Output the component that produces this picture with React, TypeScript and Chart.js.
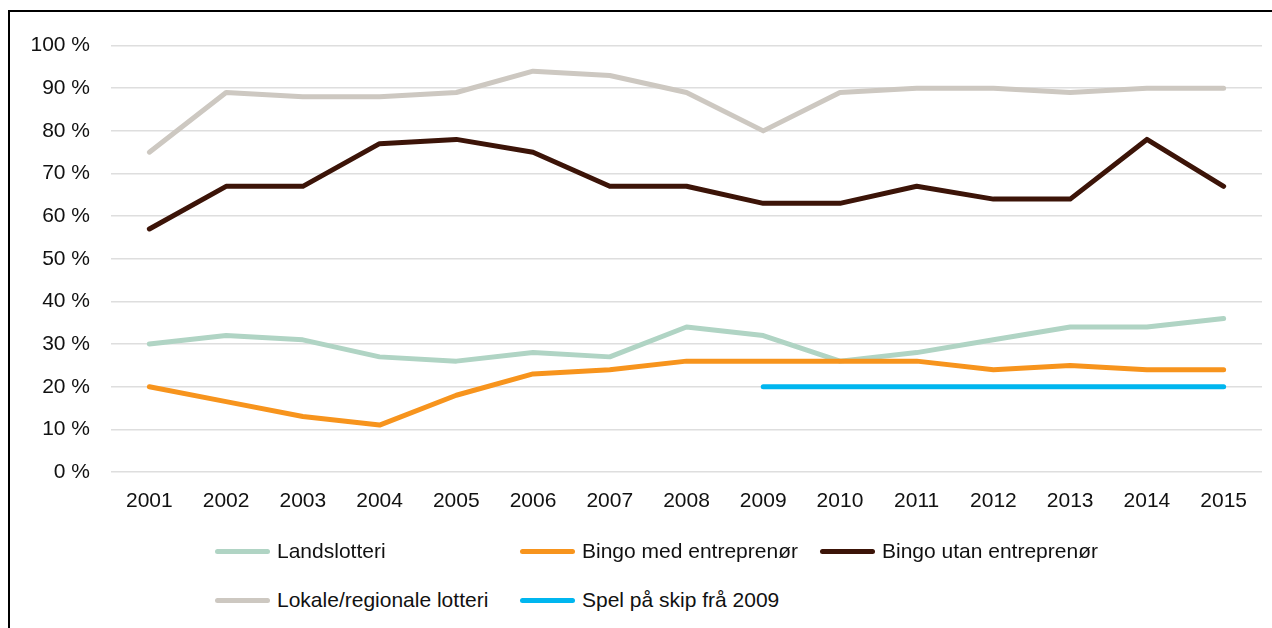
import React, { useEffect, useRef } from "react";
import { Chart, registerables } from "chart.js";

Chart.register(...registerables);

const years = ["2001", "2002", "2003", "2004", "2005", "2006", "2007", "2008", "2009", "2010", "2011", "2012", "2013", "2014", "2015"];

const landslotteri = [30, 32, 31, 27, 26, 28, 27, 34, 32, 26, 28, 31, 34, 34, 36];
const bingoMed = [20, 16.5, 13, 11, 18, 23, 24, 26, 26, 26, 26, 24, 25, 24, 24];
const bingoUtan = [57, 67, 67, 77, 78, 75, 67, 67, 63, 63, 67, 64, 64, 78, 67];
const lokale = [75, 89, 88, 88, 89, 94, 93, 89, 80, 89, 90, 90, 89, 90, 90];
const spelSkip = [null, null, null, null, null, null, null, null, 20, 20, 20, 20, 20, 20, 20];

const seriesLabels = ["Landslotteri", "Bingo med entreprenør", "Bingo utan entreprenør", "Lokale/regionale lotteri", "Spel på skip frå 2009"];
const seriesColors = ["#b0d4c4", "#f7941d", "#3c1408", "#cdc8c1", "#00b6ef"];
const seriesData = [landslotteri, bingoMed, bingoUtan, lokale, spelSkip];

const yTicks = [0, 10, 20, 30, 40, 50, 60, 70, 80, 90, 100];

const FONT = "'Liberation Sans', Arial, sans-serif";
const FONT_SIZE = 21;

const CANVAS_W = 1262;
const CANVAS_H = 530;

// legend grid: column lefts and row centres inside the frame
const legendCols = [205, 510, 810];
const legendRows = [539, 588];
const legendSlots = [
  [0, 0],
  [1, 0],
  [2, 0],
  [0, 1],
  [1, 1],
];

export default function App() {
  const canvasRef = useRef<HTMLCanvasElement | null>(null);

  useEffect(() => {
    if (!canvasRef.current) return;
    const chart = new Chart(canvasRef.current, {
      type: "line",
      data: {
        labels: years,
        datasets: seriesData.map((d, i) => ({
          label: seriesLabels[i],
          data: d,
          borderColor: seriesColors[i],
          backgroundColor: seriesColors[i],
          borderWidth: 5,
          borderCapStyle: "round" as const,
          borderJoinStyle: "round" as const,
          pointRadius: 0,
          pointHoverRadius: 0,
          tension: 0,
          spanGaps: false,
          order: seriesData.length - i,
        })),
      },
      options: {
        animation: false,
        responsive: false,
        devicePixelRatio: 1,
        layout: { padding: { top: 29, right: 10, left: 0, bottom: 0 } },
        plugins: {
          legend: { display: false },
          tooltip: { enabled: false },
        },
        scales: {
          x: {
            offset: true,
            grid: { display: false, drawTicks: false },
            border: { display: false },
            ticks: {
              color: "#111",
              font: { family: FONT, size: FONT_SIZE },
              padding: 17,
              maxRotation: 0,
            },
            afterFit: (scale: any) => {
              scale.height = 70;
            },
          },
          y: {
            min: 0,
            max: 100,
            afterBuildTicks: (scale: any) => {
              scale.ticks = yTicks.map((v) => ({ value: v }));
            },
            grid: { color: "#dedede", lineWidth: 1.5, drawTicks: false },
            border: { display: false },
            ticks: {
              color: "#111",
              font: { family: FONT, size: FONT_SIZE },
              padding: 21,
              callback: (v: any) => `${v} %`,
            },
            afterFit: (scale: any) => {
              scale.width = 101;
            },
          },
        },
      },
    });
    return () => chart.destroy();
  }, []);

  return (
    <div
      style={{
        position: "fixed",
        left: 8,
        top: 10,
        width: 1264,
        height: 618,
        boxSizing: "border-box",
        borderTop: "2px solid #000",
        borderLeft: "2px solid #000",
        background: "#fff",
        fontFamily: FONT,
      }}
    >
      <canvas
        ref={canvasRef}
        width={CANVAS_W}
        height={CANVAS_H}
        style={{ position: "absolute", left: 0, top: 0, width: CANVAS_W, height: CANVAS_H, display: "block" }}
      />
      {seriesLabels.map((label, i) => {
        const [c, r] = legendSlots[i];
        return (
          <div
            key={label}
            style={{
              position: "absolute",
              left: legendCols[c],
              top: legendRows[r] - 12,
              height: 24,
              display: "flex",
              alignItems: "center",
              whiteSpace: "nowrap",
            }}
          >
            <span
              style={{
                display: "inline-block",
                width: 55,
                height: 5,
                borderRadius: 2.5,
                background: seriesColors[i],
                marginRight: 7,
              }}
            />
            <span style={{ fontSize: FONT_SIZE, color: "#111", lineHeight: "24px" }}>{label}</span>
          </div>
        );
      })}
    </div>
  );
}
